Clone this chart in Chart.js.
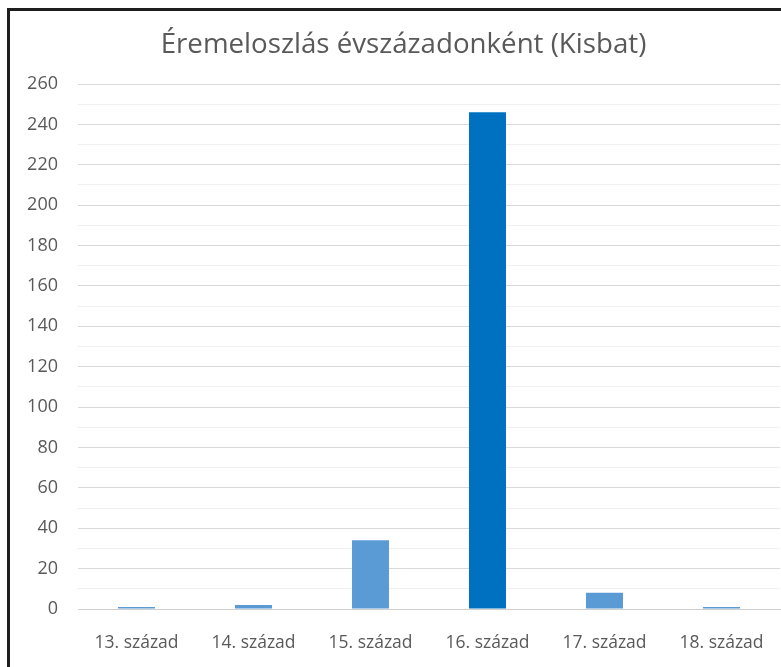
<!DOCTYPE html>
<html>
<head>
<meta charset="utf-8">
<script src="https://cdn.jsdelivr.net/npm/chart.js@4"></script>
<style>
  html, body { margin: 0; padding: 0; background: #ffffff; overflow: hidden; }
  #wrap { position: relative; width: 781px; height: 667px; }
  #frame { position: absolute; left: 7px; top: 8px; width: 800px; height: 700px;
           border-left: 3px solid #1e1e1e; border-top: 3px solid #1e1e1e; box-sizing: border-box; pointer-events: none; }
  #title { position: absolute; left: 0; top: 23px; width: 807px; text-align: center;
           font-family: 'Open Sans', 'Liberation Sans', sans-serif; font-size: 27.7px; line-height: normal;
           color: #595959; white-space: nowrap; margin: 0; font-weight: normal; }
  canvas { position: absolute; left: 0; top: 0; }
</style>
</head>
<body>
<div id="wrap">
  <canvas id="c" width="781" height="667"></canvas>
  <div id="title"></div>
  <div id="frame"></div>
</div>
<script>
const chartTitle = 'Éremeloszlás évszázadonként (Kisbat)';
const categories = ['13. század', '14. század', '15. század', '16. század', '17. század', '18. század'];
const coinCounts = [1, 2, 34, 246, 8, 1];
const barColors = ['#5B9BD5', '#5B9BD5', '#5B9BD5', '#0070C0', '#5B9BD5', '#5B9BD5'];
const yMin = 0, yMax = 260, yMajorStep = 20, yMinorStep = 10;

document.getElementById('title').textContent = chartTitle;

const fontFam = "'Open Sans', 'Liberation Sans', sans-serif";

new Chart(document.getElementById('c'), {
  type: 'bar',
  data: {
    labels: categories,
    datasets: [{
      data: coinCounts,
      backgroundColor: barColors,
      borderWidth: 0,
      categoryPercentage: 1,
      barPercentage: 0.316
    }]
  },
  options: {
    responsive: false,
    animation: false,
    events: [],
    layout: { padding: { left: 0, right: 1, top: 84, bottom: 0 } },
    plugins: {
      legend: { display: false },
      tooltip: { enabled: false },
      title: { display: false }
    },
    scales: {
      x: {
        grid: { display: false, drawTicks: false },
        border: { display: true, color: '#d0d0d0', width: 1 },
        ticks: { color: '#595959', font: { family: fontFam, size: 17.5 }, padding: 24, maxRotation: 0 },
        afterFit: (s) => { s.height = 58; s.paddingLeft = 0; s.paddingRight = 0; }
      },
      y: {
        min: yMin, max: yMax,
        border: { display: false },
        grid: {
          drawTicks: false,
          color: (ctx) => (ctx.tick && ctx.tick.value % yMajorStep === 0) ? '#d9d9d9' : '#f0f0f0',
          lineWidth: 1
        },
        ticks: {
          stepSize: yMinorStep,
          autoSkip: false,
          color: '#595959',
          font: { family: fontFam, size: 18 },
          padding: 20,
          callback: (v) => (v % yMajorStep === 0 ? String(v) : '')
        },
        afterFit: (s) => { s.width = 78; s.paddingTop = 0; s.paddingBottom = 0; }
      }
    }
  }
});
</script>
</body>
</html>
